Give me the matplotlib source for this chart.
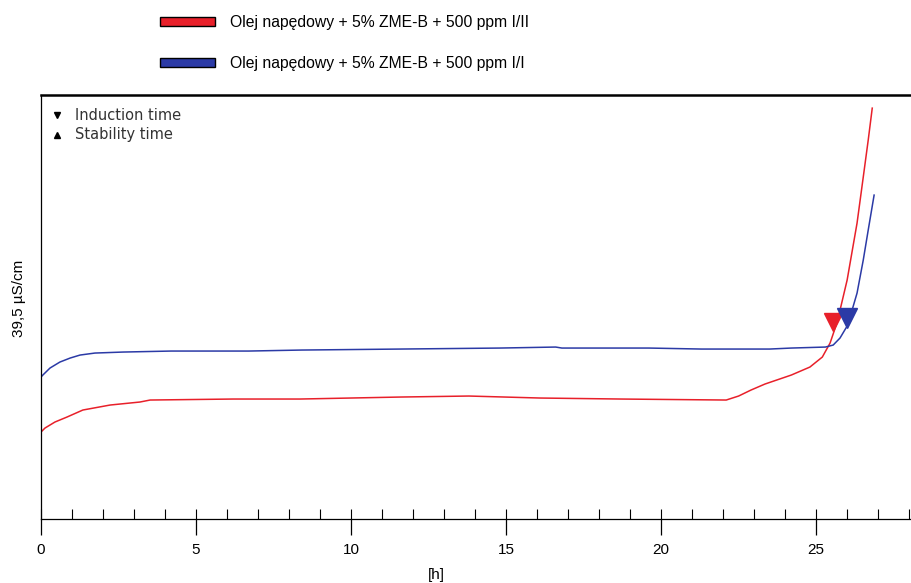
import matplotlib
matplotlib.use("Agg")
import matplotlib.pyplot as plt
from matplotlib.patches import Patch
from matplotlib.ticker import MultipleLocator

plt.rcParams['font.family'] = ['Liberation Sans', 'DejaVu Sans']

# ---------------- Datos ----------------
LABEL_RED = "Olej napędowy + 5% ZME-B + 500 ppm I/II"
LABEL_BLUE = "Olej napędowy + 5% ZME-B + 500 ppm I/I"

# tiempo [h] y conductividad (unidades arbitrarias, eje sin escala)
t_blue = [0, 0.06, 0.29, 0.61, 0.94, 1.26, 1.74, 2.65, 4.2, 6.7, 8.4, 11.6, 14.8,
          16.6, 16.8, 19.6, 21.3, 23.5, 24.2, 25.3, 25.55, 25.77, 26.0, 26.16,
          26.32, 26.52, 26.68, 26.87]
y_blue = [142, 144, 151, 157, 161, 164, 166, 167, 168, 168, 169, 170, 171,
          172, 171, 171, 170, 170, 171, 172, 174, 181, 193, 209,
          226, 259, 289, 324]

t_red = [0, 0.13, 0.45, 0.84, 1.35, 2.23, 3.19, 3.52, 6.2, 8.35, 11.6, 13.8, 16.1,
         18.7, 22.1, 22.5, 22.9, 23.35, 24.2, 24.8, 25.2, 25.45, 25.68, 26.0,
         26.32, 26.52, 26.68, 26.81]
y_red = [87, 91, 97, 102, 109, 114, 117, 119, 120, 120, 122, 123, 121,
         120, 119, 123, 129, 135, 144, 152, 162, 176, 197, 239,
         296, 342, 379, 411]

# tiempos de induccion
ind_red = (25.55, 197)
ind_blue = (26.0, 201)

RED = "#e8202a"
BLUE = "#2b3aa6"

# ---------------- Figura ----------------
fig = plt.figure(figsize=(9.11, 5.83), dpi=100)
ax = fig.add_axes([0.045, 0.1098, 0.955, 0.727])

ax.plot(t_red, y_red, color=RED, lw=1.1)
ax.plot(t_blue, y_blue, color=BLUE, lw=1.1)
ax.plot(*ind_red, marker='v', color=RED, markersize=13, ls='none')
ax.plot(*ind_blue, marker='v', color=BLUE, markersize=14, ls='none')

ax.set_xlim(0, 28.06)
ax.set_ylim(0, 424)

ax.spines['right'].set_visible(False)
ax.spines['top'].set_linewidth(1.8)
ax.spines['left'].set_linewidth(0.9)
ax.spines['bottom'].set_linewidth(0.9)

ax.set_yticks([])
ax.xaxis.set_major_locator(MultipleLocator(5))
ax.xaxis.set_minor_locator(MultipleLocator(1))
ax.xaxis.remove_overlapping_locs = False
ax.tick_params(axis='x', which='major', direction='out', length=11.5, width=0.9,
               pad=6, labelsize=11)
ax.tick_params(axis='x', which='minor', direction='in', length=7, width=0.8)
for tick in ax.xaxis.get_minor_ticks():
    if round(tick.get_loc()) in (4, 14, 24):
        tick.tick1line.set_markeredgewidth(1.8)

ax.set_xlabel("[h]", fontsize=11)
ax.xaxis.set_label_coords(0.455, -0.115)
ax.set_ylabel("39,5 µS/cm", fontsize=11)
ax.yaxis.set_label_coords(-0.017, 0.52)

# leyenda interior
ax.plot([0.018], [0.953], marker='v', color='black', markersize=5,
        transform=ax.transAxes, ls='none')
ax.plot([0.018], [0.906], marker='^', color='black', markersize=5,
        transform=ax.transAxes, ls='none')
ax.text(0.039, 0.953, "Induction time", transform=ax.transAxes, va='center',
        fontsize=10.5, family='DejaVu Sans', color='#333333')
ax.text(0.039, 0.906, "Stability time", transform=ax.transAxes, va='center',
        fontsize=10.5, family='DejaVu Sans', color='#333333')

# leyenda superior
handles = [Patch(facecolor=RED, edgecolor='black', lw=1.0, label=LABEL_RED),
           Patch(facecolor=BLUE, edgecolor='black', lw=1.0, label=LABEL_BLUE)]
fig.legend(handles=handles, loc='upper left', bbox_to_anchor=(160 / 911, 1 - 15 / 583),
           frameon=False, fontsize=11.3, handlelength=3.5, handleheight=0.5,
           handletextpad=0.95, labelspacing=1.68, borderpad=0, borderaxespad=0)

fig.savefig("out.png", dpi=100)
